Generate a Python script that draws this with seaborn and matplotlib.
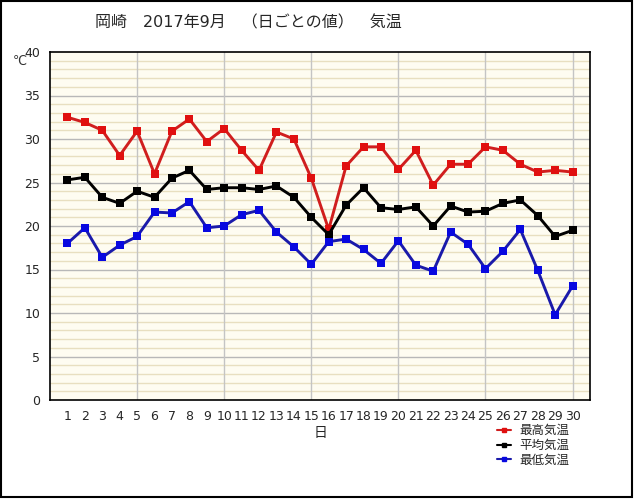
import matplotlib
matplotlib.use("Agg")
import matplotlib.pyplot as plt
import seaborn as sns
import pandas as pd
from matplotlib.patches import Rectangle
from matplotlib.lines import Line2D

days = list(range(1, 31))
t_max = [32.5, 31.9, 31.0, 28.1, 30.9, 26.0, 30.9, 32.3, 29.7, 31.2,
         28.7, 26.4, 30.8, 30.0, 25.5, 19.6, 26.9, 29.1, 29.1, 26.5,
         28.7, 24.7, 27.1, 27.1, 29.1, 28.7, 27.1, 26.2, 26.4, 26.2]
t_avg = [25.3, 25.6, 23.3, 22.6, 24.0, 23.3, 25.5, 26.4, 24.2, 24.4,
         24.4, 24.2, 24.6, 23.3, 21.0, 19.0, 22.4, 24.4, 22.1, 21.9,
         22.2, 20.0, 22.3, 21.6, 21.7, 22.6, 23.0, 21.2, 18.8, 19.5]
t_min = [18.0, 19.8, 16.4, 17.8, 18.8, 21.6, 21.5, 22.8, 19.8, 20.0,
         21.3, 21.8, 19.3, 17.6, 15.6, 18.2, 18.5, 17.3, 15.7, 18.3,
         15.5, 14.8, 19.3, 17.9, 15.1, 17.1, 19.6, 14.9, 9.8, 13.1]
series_names = ["最高気温", "平均気温", "最低気温"]
title = "岡崎　2017年9月　（日ごとの値）　気温"

sns.set_style("white")
plt.rcParams["font.family"] = ["DejaVu Sans", "Noto Sans CJK JP"]

df = pd.concat([
    pd.DataFrame({"day": days, "temp": t_max, "kind": series_names[0]}),
    pd.DataFrame({"day": days, "temp": t_avg, "kind": series_names[1]}),
    pd.DataFrame({"day": days, "temp": t_min, "kind": series_names[2]}),
])

W, H = 640, 500
fig = plt.figure(figsize=(6.4, 5.0), dpi=100)
fig.patch.set_facecolor("white")
fig.add_artist(Rectangle((1 / W, 1 - 497 / H), 631 / W, 496 / H, transform=fig.transFigure,
                         fill=False, edgecolor="black", linewidth=1.5))
ax = fig.add_axes([50 / W, 100 / H, 540 / W, 348 / H])
ax.set_facecolor("#fefcf1")

line_colors = {"最高気温": "#d01e1e", "平均気温": "#000000", "最低気温": "#1a1aaa"}
marker_colors = ["#e01010", "#000000", "#0808e0"]

# grid
for v in range(1, 40):
    if v % 5:
        ax.axhline(v, color="#e8dfc0", lw=1.0, zorder=0)
for v in range(5, 40, 5):
    ax.axhline(v, color="#b8b8b8", lw=1.0, zorder=0)
for d in range(5, 31, 5):
    ax.axvline(d, color="#c4c4c4", lw=1.0, zorder=0)

sns.lineplot(data=df, x="day", y="temp", hue="kind", palette=line_colors,
             hue_order=series_names, ax=ax, linewidth=2.1, legend=False,
             marker="s", markersize=5.5, markeredgewidth=0, zorder=3)
for ln, mc in zip(ax.lines[-3:], marker_colors):
    ln.set_markerfacecolor(mc)
    ln.set_markeredgecolor(mc)

ax.set_xlim(0, 31)
ax.set_ylim(0, 40)
ax.set_xticks(days)
ax.set_yticks(range(0, 41, 5))
ax.tick_params(axis="both", length=0, labelsize=9, pad=7)
ax.set_xlabel("日", fontsize=10, labelpad=2)
ax.set_ylabel("")
for s in ax.spines.values():
    s.set_color("black")
    s.set_linewidth(1.2)

fig.text(13 / W, 1 - 61 / H, "℃", fontsize=9, ha="left", va="center", color="#333333")
fig.text(248 / W, 1 - 23 / H, title, fontsize=11.5, ha="center", va="center")

handles = [Line2D([0], [0], color=line_colors[n], lw=1.5, marker="s", markersize=2.5,
                  markerfacecolor=mc, markeredgecolor=mc)
           for n, mc in zip(series_names, marker_colors)]
fig.legend(handles, series_names, loc="upper left", bbox_to_anchor=(497 / W, 1 - 424 / H),
           frameon=False, fontsize=9, handlelength=1.1, handletextpad=0.7,
           labelspacing=0.15, borderaxespad=0, borderpad=0)

fig.savefig("out.png", dpi=100)
